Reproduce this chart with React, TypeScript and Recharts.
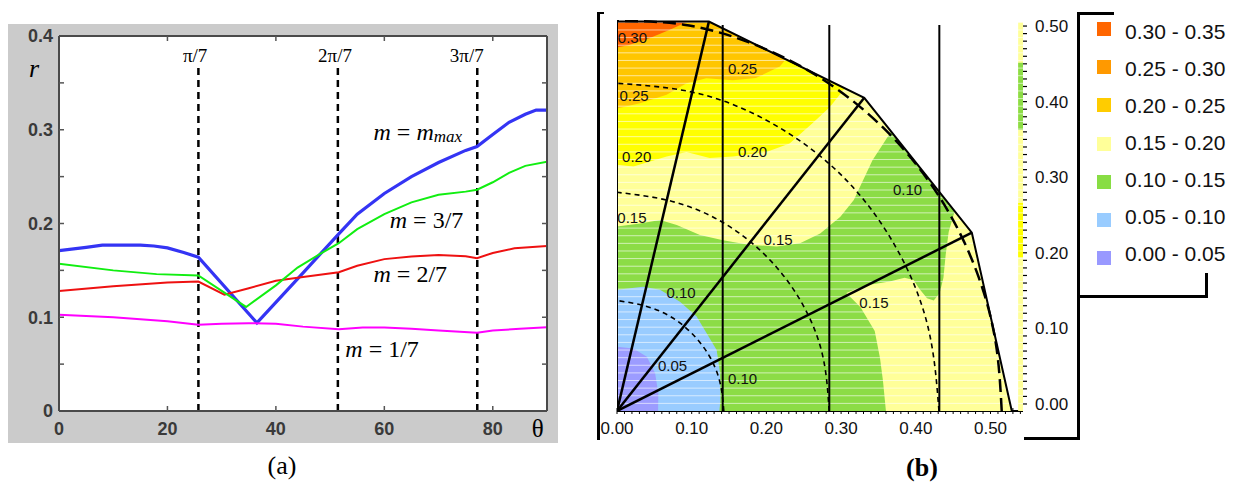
import React from 'react';
import {
  LineChart, Line, XAxis, YAxis, CartesianGrid, ReferenceDot,
  ComposedChart, Scatter, ReferenceLine, ReferenceArea,
} from 'recharts';

const SANS = "'Liberation Sans', Arial, Helvetica, sans-serif";
const SERIF = "'Liberation Serif', 'Times New Roman', Times, serif";

// ================= Panel (a) data =================
const xTicksA = [0, 20, 40, 60, 80];
const xInnerTicksA = [20, 40, 60, 80];
const yTicksA = [0, 0.1, 0.2, 0.3, 0.4];
const yTickLabelsA = ['0', '0.1', '0.2', '0.3', '0.4'];
const yInnerTicksA = [0.05, 0.1, 0.15, 0.2, 0.25, 0.3, 0.35];

const thetaMmax = [0, 5, 8, 15, 17.5, 20, 23, 25.7, 36.5, 44, 51.6, 55, 60, 65, 70, 75, 77.1, 80, 83, 86, 88, 90];
const rMmax = [0.171, 0.1746, 0.177, 0.177, 0.176, 0.174, 0.169, 0.164, 0.094, 0.141, 0.189, 0.21, 0.232, 0.25, 0.265, 0.278, 0.282, 0.295, 0.308, 0.3165, 0.321, 0.321];

const thetaM3 = [0, 10, 18, 25.7, 34.5, 40, 44, 48, 51.6, 55, 60, 65, 70, 75, 77.1, 80, 83, 86, 90];
const rM3 = [0.157, 0.15, 0.146, 0.1445, 0.111, 0.134, 0.153, 0.167, 0.179, 0.194, 0.21, 0.2225, 0.2307, 0.234, 0.236, 0.244, 0.254, 0.2615, 0.266];

const thetaM2 = [0, 10, 20, 25.7, 30.5, 35, 40, 45, 51.6, 55, 60, 65, 70, 75, 77.1, 80, 84, 90];
const rM2 = [0.128, 0.133, 0.137, 0.138, 0.124, 0.131, 0.139, 0.143, 0.148, 0.155, 0.162, 0.1647, 0.1665, 0.165, 0.163, 0.1686, 0.1735, 0.176];

const thetaM1 = [0, 10, 20, 25.7, 30, 35, 40, 45, 51.6, 56, 60, 65, 70, 77.1, 80, 85, 90];
const rM1 = [0.1026, 0.1, 0.0958, 0.0919, 0.093, 0.0937, 0.093, 0.09, 0.0873, 0.089, 0.089, 0.0877, 0.0859, 0.0834, 0.0859, 0.0877, 0.0894];

const dividerTheta = [25.71, 51.43, 77.14];
const dividerTop = 0.366;
const dividerLabels = ['π/7', '2π/7', '3π/7'];
const dividerLabelTheta = [25.1, 50.9, 75.2];
const dividerLabelR = 0.372;

const seriesLabelTheta = [58, 61, 58, 52.8];
const seriesLabelR = [0.289, 0.195, 0.138, 0.0576];
const seriesLabelFrac = ['max', '3/7', '2/7', '1/7'];

const zipA = (t: number[], r: number[]) => t.map((v, i) => ({ t: v, r: r[i] }));

// ================= Panel (b) data =================
const xMajorB = [0, 0.1, 0.2, 0.3, 0.4, 0.5];
const xTickLabelsB = ['0.00', '0.10', '0.20', '0.30', '0.40', '0.50'];
const yMajorB = [0, 0.1, 0.2, 0.3, 0.4, 0.5];
const yTickLabelsB = ['0.00', '0.10', '0.20', '0.30', '0.40', '0.50'];

type P = [number, number];
const domainOutline: P[] = [[0, 0], [0, 0.511], [0.123, 0.511], [0.331, 0.411], [0.475, 0.234], [0.5285, 0]];
const regionYellow: P[] = [[0, 0.511], [0.123, 0.511], [0.305, 0.4235], [0.285, 0.399], [0.262, 0.378], [0.231, 0.351], [0.2, 0.34], [0.155, 0.334], [0.124, 0.332], [0.093, 0.34], [0.0665, 0.334], [0.022, 0.321], [0, 0.323]];
const regionGold: P[] = [[0, 0.511], [0.123, 0.511], [0.226, 0.4615], [0.218, 0.452], [0.186, 0.437], [0.155, 0.434], [0.1195, 0.4366], [0.093, 0.43], [0.0665, 0.415], [0.0308, 0.404], [0, 0.397]];
const regionRed: P[] = [[0, 0.511], [0.095, 0.511], [0.07, 0.5], [0.04, 0.488], [0.015, 0.48], [0, 0.477]];
const regionGreen: P[] = [[0, 0.242], [0.0308, 0.246], [0.0576, 0.2507], [0.08, 0.244], [0.111, 0.231], [0.142, 0.224], [0.178, 0.218], [0.214, 0.216], [0.245, 0.22], [0.272, 0.233], [0.299, 0.255], [0.317, 0.277], [0.342, 0.329], [0.367, 0.3667], [0.452, 0.262], [0.444, 0.235], [0.44, 0.205], [0.437, 0.175], [0.432, 0.155], [0.424, 0.145], [0.415, 0.148], [0.405, 0.16], [0.397, 0.172], [0.385, 0.175], [0.365, 0.17], [0.34, 0.166], [0.32, 0.16], [0.307, 0.155], [0.326, 0.136], [0.345, 0.105], [0.352, 0.07], [0.356, 0.04], [0.36, 0], [0, 0]];
const regionBlue: P[] = [[0, 0.159], [0.035, 0.163], [0.0576, 0.159], [0.0843, 0.1435], [0.1066, 0.124], [0.12, 0.102], [0.1334, 0.08], [0.138, 0.0496], [0.1385, 0.0145], [0.137, 0], [0, 0]];
const regionPurple: P[] = [[0, 0.0844], [0.022, 0.082], [0.04, 0.0712], [0.051, 0.0496], [0.0553, 0.0232], [0.055, 0], [0, 0]];

const regionFills = [
  { pts: domainOutline, color: '#FFFF99' },
  { pts: regionYellow, color: '#FFFF00' },
  { pts: regionGold, color: '#FFC600' },
  { pts: regionRed, color: '#FF6600' },
  { pts: regionGreen, color: '#8CDC46' },
  { pts: regionBlue, color: '#99CCFF' },
  { pts: regionPurple, color: '#9C9CFF' },
];

const radialLines: P[][] = [
  [[0, 0], [0.123, 0.511]],
  [[0, 0], [0.331, 0.411]],
  [[0, 0], [0.475, 0.234]],
];
const verticalLinesX = [0.1415, 0.2842, 0.4315];
const verticalTop = 0.5066;

const arcInner: P[] = [[0.143, 0], [0.138, 0.037], [0.124, 0.0715], [0.101, 0.101], [0.0715, 0.124], [0.037, 0.138], [0, 0.145]];
const arcMiddle: P[] = [[0.284, 0], [0.275, 0.074], [0.247, 0.1425], [0.2015, 0.2015], [0.1425, 0.247], [0.074, 0.275], [0, 0.287]];
const arcOuter: P[] = [[0.431, 0], [0.416, 0.1115], [0.373, 0.2155], [0.305, 0.305], [0.2155, 0.373], [0.1115, 0.416], [0, 0.43]];
const arcBoundary: P[] = [[0.515, 0], [0.507, 0.0894], [0.484, 0.176], [0.446, 0.2575], [0.3945, 0.331], [0.331, 0.3945], [0.2575, 0.446], [0.176, 0.484], [0.0894, 0.507], [0, 0.512]];

const contourLabelText = ['0.30', '0.25', '0.25', '0.20', '0.20', '0.15', '0.15', '0.10', '0.15', '0.05', '0.10', '0.10'];
const contourLabelX = [0.0207, 0.168, 0.0228, 0.0264, 0.1814, 0.02, 0.2156, 0.0857, 0.344, 0.0743, 0.168, 0.389];
const contourLabelY = [0.4895, 0.449, 0.4134, 0.3337, 0.341, 0.254, 0.2257, 0.1555, 0.1424, 0.0591, 0.042, 0.2913];

const legendLabels = ['0.30 - 0.35', '0.25 - 0.30', '0.20 - 0.25', '0.15 - 0.20', '0.10 - 0.15', '0.05 - 0.10', '0.00 - 0.05'];
const legendColors = ['#FF6600', '#FF9900', '#FFCC00', '#FFFF99', '#88DD44', '#99CCFF', '#9999FF'];

const toXY = (pts: P[]) => pts.map(([x, y]) => ({ x, y }));

const xMinorB = Array.from({ length: 55 }, (_, i) => +(i * 0.01).toFixed(2));
const yMinorB = Array.from({ length: 51 }, (_, i) => +(i * 0.01).toFixed(2));
const stripeYs = Array.from({ length: 51 }, (_, i) => +((i + 1) * 0.01).toFixed(2));

const renderNothing = () => <g />;

const fmtMajor = (majors: number[], labels: string[]) => (v: number) => {
  const i = majors.findIndex((m) => Math.abs(m - v) < 1e-6);
  return i >= 0 ? labels[i] : '';
};

const frameLine = (left: number, top: number, width: number, height: number, key: string) => (
  <div key={key} style={{ position: 'absolute', left, top, width, height, background: '#000' }} />
);

export default function App() {
  const axisStrokeA = { stroke: '#4a4a4a', strokeWidth: 2 };
  const tickStyleA = { fill: '#3a3a3a', fontSize: 18, fontWeight: 'bold' as const, fontFamily: SANS };
  return (
    <div style={{ position: 'absolute', left: 0, top: 0, width: 1235, height: 482, background: '#fff', overflow: 'hidden' }}>
      {/* ============ Panel (a) ============ */}
      <div style={{ position: 'absolute', left: 8, top: 24, width: 550, height: 419, background: '#cbcbcb' }} />
      <div style={{ position: 'absolute', left: 0, top: 0 }}>
        <LineChart width={560} height={482} margin={{ top: 36, right: 13, bottom: 41, left: 19 }}>
          <CartesianGrid xAxisId="x" yAxisId="y" horizontal={false} vertical={false} fill="#ffffff" fillOpacity={1} />
          <XAxis xAxisId="x" dataKey="t" type="number" domain={[0, 90]} allowDataOverflow ticks={xTicksA}
            height={30} tickSize={0} tickMargin={11} axisLine={axisStrokeA} tickLine={false} tick={tickStyleA} />
          <XAxis xAxisId="xin" dataKey="t" type="number" domain={[0, 90]} allowDataOverflow ticks={xInnerTicksA}
            mirror tickSize={5} tick={renderNothing} axisLine={false} tickLine={{ stroke: '#555', strokeWidth: 1.5 }} />
          <XAxis xAxisId="xtop" orientation="top" dataKey="t" type="number" domain={[0, 90]} allowDataOverflow ticks={xInnerTicksA}
            mirror tickSize={5} tick={renderNothing} axisLine={axisStrokeA} tickLine={{ stroke: '#555', strokeWidth: 1.5 }} />
          <YAxis yAxisId="y" dataKey="r" type="number" domain={[0, 0.4]} allowDataOverflow ticks={yTicksA}
            tickFormatter={fmtMajor(yTicksA, yTickLabelsA)} width={40} tickSize={0} tickMargin={6}
            axisLine={axisStrokeA} tickLine={false} tick={tickStyleA} />
          <YAxis yAxisId="yin" dataKey="r" type="number" domain={[0, 0.4]} allowDataOverflow ticks={yInnerTicksA}
            mirror tickSize={5} tick={renderNothing} axisLine={false} tickLine={{ stroke: '#555', strokeWidth: 1.5 }} />
          <YAxis yAxisId="yright" orientation="right" dataKey="r" type="number" domain={[0, 0.4]} allowDataOverflow ticks={yInnerTicksA}
            mirror tickSize={5} tick={renderNothing} axisLine={axisStrokeA} tickLine={{ stroke: '#555', strokeWidth: 1.5 }} />

          {dividerTheta.map((t, i) => (
            <Line key={'div' + i} xAxisId="x" yAxisId="y" data={[{ t, r: 0 }, { t, r: dividerTop }]} dataKey="r"
              stroke="#000" strokeWidth={2.5} strokeDasharray="7 5" dot={false} activeDot={false} isAnimationActive={false} />
          ))}
          <Line xAxisId="x" yAxisId="y" data={zipA(thetaMmax, rMmax)} dataKey="r" stroke="#3434f4" strokeWidth={3.2}
            dot={false} activeDot={false} isAnimationActive={false} />
          <Line xAxisId="x" yAxisId="y" data={zipA(thetaM1, rM1)} dataKey="r" stroke="#ff00ff" strokeWidth={2}
            dot={false} activeDot={false} isAnimationActive={false} />
          <Line xAxisId="x" yAxisId="y" data={zipA(thetaM2, rM2)} dataKey="r" stroke="#ee1111" strokeWidth={2}
            dot={false} activeDot={false} isAnimationActive={false} />
          <Line xAxisId="x" yAxisId="y" data={zipA(thetaM3, rM3)} dataKey="r" stroke="#11ee11" strokeWidth={2}
            dot={false} activeDot={false} isAnimationActive={false} />

          {dividerLabels.map((lab, i) => (
            <ReferenceDot key={'dl' + i} xAxisId="x" yAxisId="y" x={dividerLabelTheta[i]} y={dividerLabelR} ifOverflow="visible"
              shape={(p: any) => (
                <text x={p.cx} y={p.cy} textAnchor="middle" fontFamily={SERIF} fontSize={19} fill="#000">{lab}</text>
              )} />
          ))}
          {seriesLabelFrac.map((f, i) => (
            <ReferenceDot key={'sl' + i} xAxisId="x" yAxisId="y" x={seriesLabelTheta[i]} y={seriesLabelR[i]} ifOverflow="visible"
              shape={(p: any) => (
                <text x={p.cx} y={p.cy} fontFamily={SERIF} fontSize={24} fill="#000">
                  <tspan fontStyle="italic">m</tspan>
                  <tspan>{' = '}</tspan>
                  {f === 'max' ? (
                    <>
                      <tspan fontStyle="italic">m</tspan>
                      <tspan fontStyle="italic" fontSize={17} dy={2}>max</tspan>
                    </>
                  ) : (
                    <tspan>{f}</tspan>
                  )}
                </text>
              )} />
          ))}
          <ReferenceDot xAxisId="x" yAxisId="y" x={-4.6} y={0.356} ifOverflow="visible"
            shape={(p: any) => (
              <text x={p.cx} y={p.cy} textAnchor="middle" fontFamily={SERIF} fontStyle="italic" fontSize={26} fill="#000">r</text>
            )} />
          <ReferenceDot xAxisId="x" yAxisId="y" x={88.3} y={-0.0277} ifOverflow="visible"
            shape={(p: any) => (
              <text x={p.cx} y={p.cy} textAnchor="middle" fontFamily={SERIF} fontSize={25} fill="#000">θ</text>
            )} />
        </LineChart>
      </div>
      <div style={{ position: 'absolute', left: 242, top: 451, width: 80, textAlign: 'center', fontFamily: SERIF, fontSize: 26, lineHeight: '30px' }}>(a)</div>

      {/* ============ Panel (b) ============ */}
      <div style={{ position: 'absolute', left: 590, top: 0 }}>
        <ComposedChart width={645} height={482} margin={{ top: 20, right: 152, bottom: 41, left: 27 }}>
          <XAxis xAxisId="x" dataKey="x" type="number" domain={[0, 0.5435]} allowDataOverflow ticks={xMinorB} interval={0}
            tickFormatter={fmtMajor(xMajorB, xTickLabelsB)} height={30} tickSize={3} tickMargin={8}
            axisLine={{ stroke: '#000', strokeWidth: 2 }} tickLine={{ stroke: '#000', strokeWidth: 1 }}
            tick={{ fontSize: 17, fill: '#111', fontFamily: SANS }} />
          <XAxis xAxisId="xm" dataKey="x" type="number" domain={[0, 0.5435]} allowDataOverflow ticks={xMinorB} interval={0}
            mirror tickSize={3} tick={renderNothing} axisLine={false} tickLine={{ stroke: '#000', strokeWidth: 1 }} />
          <YAxis yAxisId="m" dataKey="y" type="number" domain={[0, 0.5131]} allowDataOverflow hide />
          <YAxis yAxisId="r" orientation="right" type="number" domain={[-0.0093, 0.508]} allowDataOverflow ticks={yMinorB} interval={0}
            tickFormatter={fmtMajor(yMajorB, yTickLabelsB)} width={60} tickSize={4} tickMargin={8} axisLine={false}
            tickLine={{ stroke: '#000', strokeWidth: 1.2 }} tick={{ fontSize: 17, fill: '#111', fontFamily: SANS }} />

          {regionFills.map((rg, i) => (
            <Scatter key={'rg' + i} xAxisId="x" yAxisId="m" data={toXY(rg.pts)} line={{ fill: rg.color, stroke: 'none' }}
              lineJointType="linearClosed" shape={renderNothing} isAnimationActive={false} legendType="none" zIndex={600 + i} />
          ))}
          <ReferenceArea xAxisId="x" yAxisId="m" x1={0.537} x2={0.5435} y1={0} y2={0.51} fill="#FFFF99" fillOpacity={1} stroke="none" zIndex={610} />
          <ReferenceArea xAxisId="x" yAxisId="m" x1={0.537} x2={0.5435} y1={0.369} y2={0.457} fill="#8CDC46" fillOpacity={1} stroke="none" zIndex={611} />
          <ReferenceArea xAxisId="x" yAxisId="m" x1={0.537} x2={0.5435} y1={0.202} y2={0.273} fill="#FFFF00" fillOpacity={1} stroke="none" zIndex={612} />

          {stripeYs.map((y) => (
            <ReferenceLine key={'st' + y} xAxisId="x" yAxisId="m" y={y} stroke="#ffffff" strokeOpacity={0.6} strokeWidth={1} zIndex={650} />
          ))}

          <Scatter xAxisId="x" yAxisId="m" data={toXY(domainOutline)} line={{ stroke: '#000', strokeWidth: 2, fill: 'none' }}
            shape={renderNothing} isAnimationActive={false} legendType="none" zIndex={700} />
          {radialLines.map((pts, i) => (
            <Scatter key={'rad' + i} xAxisId="x" yAxisId="m" data={toXY(pts)} line={{ stroke: '#000', strokeWidth: 2.5, fill: 'none' }}
              shape={renderNothing} isAnimationActive={false} legendType="none" zIndex={700} />
          ))}
          {verticalLinesX.map((x, i) => (
            <Scatter key={'vl' + i} xAxisId="x" yAxisId="m" data={[{ x, y: 0 }, { x, y: verticalTop }]}
              line={{ stroke: '#000', strokeWidth: 2, fill: 'none' }}
              shape={renderNothing} isAnimationActive={false} legendType="none" zIndex={700} />
          ))}
          {[arcInner, arcMiddle, arcOuter].map((pts, i) => (
            <Scatter key={'arc' + i} xAxisId="x" yAxisId="m" data={toXY(pts)}
              line={{ stroke: '#000', strokeWidth: 1.6, fill: 'none', strokeDasharray: '5 4' }} lineJointType="natural"
              shape={renderNothing} isAnimationActive={false} legendType="none" zIndex={700} />
          ))}
          <Scatter xAxisId="x" yAxisId="m" data={toXY(arcBoundary)}
            line={{ stroke: '#000', strokeWidth: 2.5, fill: 'none', strokeDasharray: '13 6' }} lineJointType="natural"
            shape={renderNothing} isAnimationActive={false} legendType="none" zIndex={700} />

          {contourLabelText.map((txt, i) => (
            <ReferenceDot key={'cl' + i} xAxisId="x" yAxisId="m" x={contourLabelX[i]} y={contourLabelY[i]} ifOverflow="visible" zIndex={800}
              shape={(p: any) => (
                <text x={p.cx} y={p.cy} textAnchor="middle" dominantBaseline="central" fontFamily={SANS} fontSize={15} fill="#111">{txt}</text>
              )} />
          ))}
        </ComposedChart>
      </div>

      {/* frame lines of panel (b) */}
      {frameLine(597, 12, 2.5, 428, 'f1')}
      {frameLine(597, 12, 7, 2, 'f2')}
      {frameLine(1077, 12, 2.5, 428, 'f3')}
      {frameLine(1024, 437, 55, 2.5, 'f4')}
      {frameLine(1077, 12, 37, 2.5, 'f5')}
      {frameLine(1077, 295, 131, 2.5, 'f6')}
      {frameLine(1205, 273, 2.5, 24, 'f7')}

      {/* legend */}
      {legendLabels.map((lab, i) => (
        <React.Fragment key={'lg' + i}>
          <div style={{ position: 'absolute', left: 1097, top: 29 + i * 38.2 - 7, width: 14, height: 14, background: legendColors[i] }} />
          <div style={{ position: 'absolute', left: 1125, top: 31.7 + i * 37.1 - 12, fontFamily: SANS, fontSize: 21, lineHeight: '24px', whiteSpace: 'nowrap', color: '#111' }}>{lab}</div>
        </React.Fragment>
      ))}

      <div style={{ position: 'absolute', left: 882, top: 453, width: 80, textAlign: 'center', fontFamily: SERIF, fontWeight: 'bold', fontSize: 26, lineHeight: '30px' }}>(b)</div>
    </div>
  );
}
